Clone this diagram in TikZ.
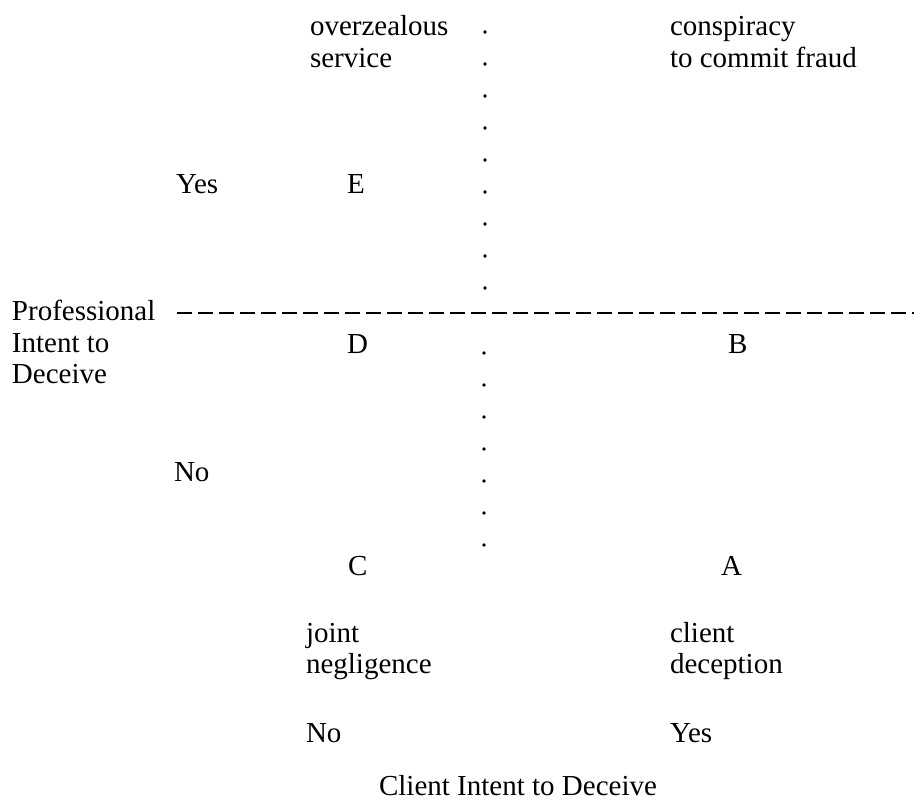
\documentclass[tikz,border=0pt]{standalone}
\usepackage{fontspec}
\setmainfont{Liberation Serif}
\begin{document}
\begin{tikzpicture}[x=1pt,y=-1pt,
  lbl/.style={anchor=base west,inner sep=0pt,outer sep=0pt,font=\fontsize{29}{32}\selectfont},
  dot/.style={fill=black,draw=none},
  axisline/.style={line width=1.8pt,dash pattern=on 15pt off 6pt}]
\useasboundingbox (0,0) rectangle (914,806);
% top-left quadrant label
\node[lbl] (ovz1) at (310,35) {overzealous};
\node[lbl] (ovz2) at (310,67) {service};
% top-right quadrant label
\node[lbl] (con1) at (670,35) {conspiracy};
\node[lbl] (con2) at (670,67) {to commit fraud};
% professional axis
\node[lbl] (pyes) at (176,193) {Yes};
\node[lbl] (E) at (347,193) {E};
\node[lbl] (pi1) at (12,320) {Professional};
\node[lbl] (pi2) at (12,352) {Intent to};
\node[lbl] (pi3) at (12,383) {Deceive};
\node[lbl] (D) at (347,353) {D};
\node[lbl] (B) at (728,353) {B};
\node[lbl] (pno) at (174,481) {No};
\node[lbl] (C) at (348,575) {C};
\node[lbl] (A) at (721,575) {A};
% bottom labels
\node[lbl] (jn1) at (306,642) {joint};
\node[lbl] (jn2) at (306,673) {negligence};
\node[lbl] (cd1) at (670,642) {client};
\node[lbl] (cd2) at (670,673) {deception};
\node[lbl] (cno) at (306,742) {No};
\node[lbl] (cyes) at (670,742) {Yes};
\node[lbl,anchor=base] (cit) at (518,795) {Client Intent to Deceive};
% dashed horizontal divider
\coordinate (hl) at (177,313);
\coordinate (hr) at (914,313);
\draw[axisline] (hl) -- (hr);
% dotted vertical divider
\foreach \yy in {32,64,...,288} \fill[dot] (485,\yy) circle (1.8);
\foreach \yy in {353,385,...,545} \fill[dot] (484,\yy) circle (1.8);
\end{tikzpicture}
\end{document}
